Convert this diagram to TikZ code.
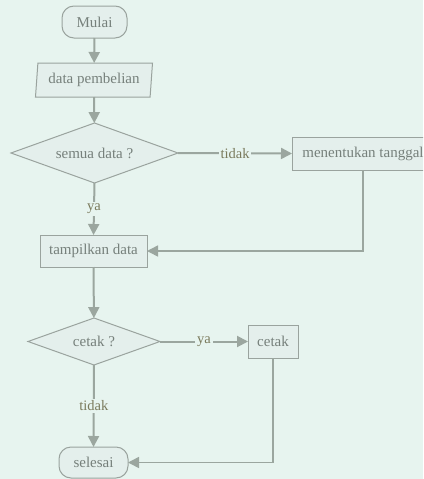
\documentclass[tikz,border=0pt]{standalone}
\usepackage{fontspec}
\setmainfont{Liberation Serif}
\usetikzlibrary{shapes.geometric,arrows.meta}
\definecolor{bgmint}{HTML}{E7F4EF}
\definecolor{boxfill}{HTML}{E4EFEC}
\definecolor{edgegray}{HTML}{9AA39E}
\definecolor{linegray}{HTML}{9BA69F}
\definecolor{txtgray}{HTML}{76807B}
\definecolor{lblolive}{HTML}{7A7A5C}
\tikzset{
  base/.style={draw=edgegray, fill=boxfill, line width=1pt, text=txtgray,
    font=\fontsize{15}{18}\selectfont, inner sep=0pt, outer sep=0pt},
  terminal/.style={base, rectangle, rounded corners=12pt},
  process/.style={base, rectangle},
  inputbox/.style={base, trapezium, trapezium left angle=80,
    trapezium right angle=100, trapezium stretches body},
  decision/.style={base, diamond, aspect=2.8},
  flow/.style={draw=linegray, line width=2pt,
    -{Triangle[length=11pt,width=11pt]}},
  elbow/.style={flow, line width=1.5pt},
  lbl/.style={fill=bgmint, text=lblolive, inner sep=2pt,
    font=\fontsize{14.5}{17}\selectfont}
}
\begin{document}
\begin{tikzpicture}[x=1pt,y=-1pt]
  \fill[bgmint] (0,0) rectangle (423,479);
  \useasboundingbox (0,0) rectangle (423,479);
  \begin{scope}
    \clip (0,0) rectangle (423,479);
    % nodes
    \node[terminal, minimum width=65pt, minimum height=32pt] (mulai) at (94.5,22) {Mulai};
    \node[inputbox, minimum width=117pt, minimum height=34pt] (input) at (94,80) {data pembelian};
    \node[decision, minimum width=167pt, minimum height=60pt] (cek) at (94.5,153) {semua data ?};
    \node[process, minimum width=142pt, minimum height=33pt] (tanggal) at (363,153.5) {menentukan tanggal};
    \node[process, minimum width=107pt, minimum height=32pt] (tampil) at (93.5,251) {tampilkan data};
    \node[decision, minimum width=132pt, minimum height=47pt] (tanya) at (94,341.5) {cetak ?};
    \node[process, minimum width=50pt, minimum height=33pt] (cetak) at (273,341.5) {cetak};
    \node[terminal, minimum width=69pt, minimum height=31pt] (selesai) at (93.5,462.5) {selesai};
    % connectors
    \draw[flow] (mulai) -- (input);
    \draw[flow] (input) -- (cek);
    \draw[flow] (cek.east) -- node[lbl] {tidak} (tanggal.west);
    \draw[flow] (cek.south) -- node[lbl] {ya} (tampil.north);
    \draw[elbow] (tanggal.south) |- (tampil.east);
    \draw[flow] (tampil) -- (tanya);
    \draw[flow] (tanya.east) -- node[lbl] {ya} (cetak.west);
    \draw[flow] (tanya.south) -- node[lbl] {tidak} (selesai.north);
    \draw[elbow] (cetak.south) |- (selesai.east);
  \end{scope}
\end{tikzpicture}
\end{document}
